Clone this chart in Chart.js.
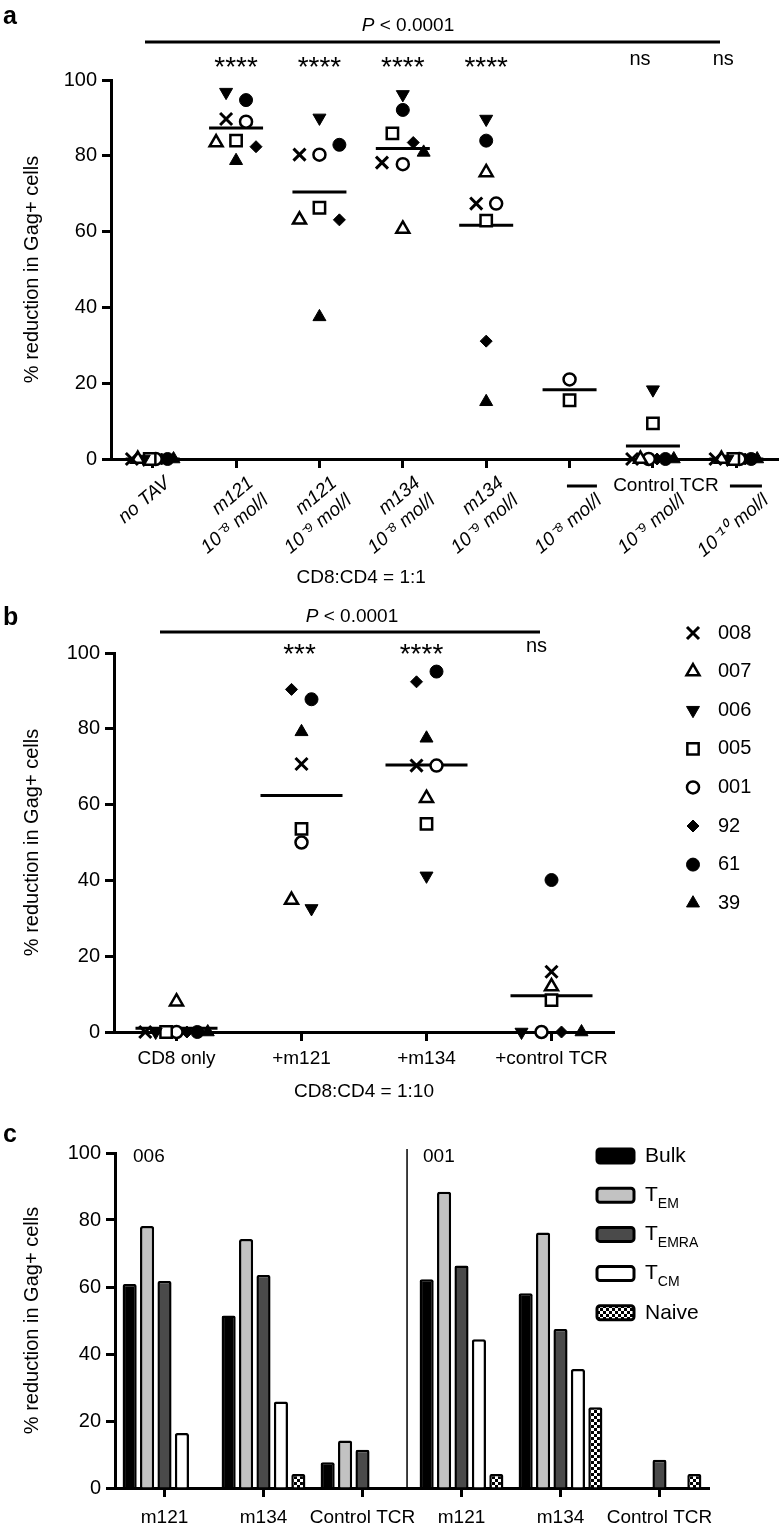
<!DOCTYPE html>
<html>
<head>
<meta charset="utf-8">
<script src="https://cdn.jsdelivr.net/npm/chart.js@4.4.0/dist/chart.umd.min.js"></script>
<style>
  body { margin: 0; background: #fff; width: 780px; height: 1528px; position: relative; overflow: hidden; }
  canvas { position: absolute; left: 0; }
</style>
</head>
<body>
<canvas id="chart-a" width="780" height="600" style="top:0"></canvas>
<canvas id="chart-b" width="780" height="515" style="top:595px"></canvas>
<canvas id="chart-c" width="780" height="418" style="top:1110px"></canvas>
<script>
// ---- data ----
const subjects = ["008", "007", "006", "005", "001", "92", "61", "39"];

// panel a: CD8:CD4 = 1:1
const ticksA = [
  ["no TAV"],
  ["m121", "10⁻⁸ mol/l"],
  ["m121", "10⁻⁹ mol/l"],
  ["m134", "10⁻⁸ mol/l"],
  ["m134", "10⁻⁹ mol/l"],
  ["", "10⁻⁸ mol/l"],
  ["", "10⁻⁹ mol/l"],
  ["", "10⁻¹⁰ mol/l"],
];
const sigA = ["", "****", "****", "****", "****", "", "ns", "ns"];
const a008 = [0, 89.7, 80.3, 78.2, 67.4, null, 0, 0];
const a007 = [0, 83.5, 63.1, 60.7, 75.6, null, 0, 0];
const a006 = [0, 96.8, 90.0, 96.2, 89.7, null, 18.3, 0];
const a005 = [0, 84.0, 66.3, 85.9, 62.9, 15.5, 9.4, 0];
const a001 = [0, 89.0, 80.3, 77.8, 67.4, 21.0, 0, 0];
const a92 = [0, 82.4, 63.1, 83.5, 31.1, null, 0, 0];
const a61 = [0, 94.7, 82.9, 92.1, 84.0, null, 0, 0];
const a39 = [0, 78.7, 37.5, 80.9, 15.1, null, 0, 0];

// panel b: CD8:CD4 = 1:10
const ticksB = ["CD8 only", "+m121", "+m134", "+control TCR"];
const sigB = ["", "***", "****", "ns"];
const b008 = [0, 70.7, 70.3, 15.9];
const b007 = [8.0, 34.8, 61.7, 12.0];
const b006 = [0, 32.6, 41.2, 0];
const b005 = [0, 53.6, 54.9, 8.4];
const b001 = [0, 50.0, 70.3, 0];
const b92 = [0, 90.4, 92.4, 0];
const b61 = [0, 87.8, 95.1, 40.1];
const b39 = [0, 79.2, 77.5, 0];

// panel c: subsets, donors 006 and 001
const ticksC = ["m121", "m134", "Control TCR", "m121", "m134", "Control TCR"];
const seriesC = ["Bulk", "T_EM", "T_EMRA", "T_CM", "Naive"];
const bulk = [60.9, 51.5, 7.7, 62.3, 58.1, 0];
const tem = [78.2, 74.3, 14.2, 88.4, 76.3, 0];
const temra = [61.8, 63.6, 11.4, 66.4, 47.5, 8.4];
const tcm = [16.4, 25.8, 0, 44.4, 35.5, 0];
const naive = [0, 4.2, 0, 4.2, 24.1, 4.2];

// ---- setup ----
const family = "'Liberation Sans', Arial, Helvetica, sans-serif";
Chart.defaults.font.family = family;
Chart.defaults.color = "#000";
Chart.defaults.animation = false;
Chart.defaults.events = [];
Chart.defaults.layout.autoPadding = false;
Chart.defaults.plugins.legend.display = false;
Chart.defaults.plugins.tooltip.enabled = false;

const markers = [
  { style: "crossRot", radius: 8.5, fill: "#000", width: 3, rotation: 0 },
  { style: "triangle", radius: 7.5, fill: "#fff", width: 2.5, rotation: 0 },
  { style: "triangle", radius: 7.5, fill: "#000", width: 1, rotation: 180 },
  { style: "rect", radius: 8, fill: "#fff", width: 2.5, rotation: 0 },
  { style: "circle", radius: 6, fill: "#fff", width: 2.5, rotation: 0 },
  { style: "rectRot", radius: 6, fill: "#000", width: 1, rotation: 0 },
  { style: "circle", radius: 6.5, fill: "#000", width: 1, rotation: 0 },
  { style: "triangle", radius: 7.5, fill: "#000", width: 1, rotation: 0 },
];

const tickGrid = { drawOnChartArea: false, drawTicks: true, tickLength: 9, tickWidth: 3, tickColor: "#000" };
const axisBorder = { display: true, color: "#000", width: 3 };

function yScale(width) {
  return {
    min: 0,
    max: 100,
    ticks: { stepSize: 20, font: { size: 20 }, padding: 5 },
    grid: tickGrid,
    border: axisBorder,
    title: { display: true, text: "% reduction in Gag+ cells", font: { size: 20 }, padding: { top: 20, bottom: 0 } },
    afterFit: (s) => { s.width = width; },
  };
}

// fixed height for an x axis, without extra side padding for the labels
function xFit(height) {
  return (s) => {
    s.height = height;
    s.paddingLeft = 0;
    s.paddingRight = 0;
  };
}

// spread points of one column that sit at nearly the same height
function spreadColumn(values, pxPerUnit, colPx) {
  const order = values.map((v, i) => i).filter((i) => values[i] != null)
    .sort((p, q) => values[q] - values[p]);
  const rows = [];
  order.forEach((i) => {
    const row = rows[rows.length - 1];
    if (row && (values[row[row.length - 1]] - values[i]) * pxPerUnit < 13.5) row.push(i);
    else rows.push([i]);
  });
  const offsets = values.map(() => 0);
  rows.forEach((row) => {
    row.sort((p, q) => p - q);
    const n = row.length;
    const step = n > 1 ? Math.min(20, (colPx * 0.5) / (n - 1)) : 0;
    row.forEach((i, k) => { offsets[i] = ((k - (n - 1) / 2) * step) / colPx; });
  });
  return offsets;
}

function scatterSets(series, pxPerUnit, colPx, meanRadius) {
  const groups = series[0].length;
  const offsets = [];
  const means = [];
  for (let g = 0; g < groups; g++) {
    const col = series.map((s) => s[g]);
    offsets.push(spreadColumn(col, pxPerUnit, colPx));
    const vals = col.filter((v) => v != null);
    means.push(vals.reduce((a, b) => a + b, 0) / vals.length);
  }
  const sets = series.map((s, k) => ({
    label: subjects[k],
    data: s.map((v, g) => (v == null ? null : { x: g + offsets[g][k], y: v })).filter(Boolean),
    pointStyle: markers[k].style,
    pointRadius: markers[k].radius,
    pointRotation: markers[k].rotation,
    pointBackgroundColor: markers[k].fill,
    pointBorderColor: "#000",
    pointBorderWidth: markers[k].width,
    showLine: false,
    clip: false,
  }));
  sets.push({
    label: "mean",
    data: means.map((m, g) => ({ x: g, y: m })),
    pointStyle: "line",
    pointRadius: meanRadius,
    pointBorderColor: "#000",
    pointBorderWidth: 3,
    showLine: false,
    clip: false,
  });
  return sets;
}

function fixedTicks(count) {
  return (s) => { s.ticks = Array.from({ length: count }, (_, i) => ({ value: i })); };
}

// ---- drawing helpers for annotations ----
function letter(ctx, t, x, y) {
  ctx.font = "bold 25px " + family;
  ctx.textAlign = "left";
  ctx.textBaseline = "middle";
  ctx.fillText(t, x, y);
}
function pText(ctx, cx, cy) {
  ctx.textBaseline = "middle";
  ctx.textAlign = "left";
  ctx.font = "italic 19px " + family;
  const w1 = ctx.measureText("P").width;
  ctx.font = "19px " + family;
  const rest = " < 0.0001";
  const w2 = ctx.measureText(rest).width;
  const x0 = cx - (w1 + w2) / 2;
  ctx.font = "italic 19px " + family;
  ctx.fillText("P", x0, cy);
  ctx.font = "19px " + family;
  ctx.fillText(rest, x0 + w1, cy);
}
function hline(ctx, x1, x2, y, w) {
  ctx.lineWidth = w;
  ctx.beginPath();
  ctx.moveTo(x1, y);
  ctx.lineTo(x2, y);
  ctx.stroke();
}
function sig(ctx, t, x, cy) {
  ctx.textAlign = "center";
  ctx.textBaseline = "alphabetic";
  if (t === "ns") {
    ctx.font = "20px " + family;
    ctx.fillText(t, x - 13, cy + 5);
  } else {
    ctx.font = "28px " + family;
    ctx.fillText(t, x, cy + 16);
  }
}

const notesA = {
  id: "notesA",
  afterDraw(chart) {
    const { ctx } = chart;
    const x = chart.scales.x;
    ctx.save();
    ctx.fillStyle = "#000";
    ctx.strokeStyle = "#000";
    letter(ctx, "a", 3, 17);
    pText(ctx, 408, 26);
    hline(ctx, 145, 720, 42, 3);
    sigA.forEach((t, i) => { if (t) sig(ctx, t, x.getPixelForValue(i), 60); });
    const cx = x.getPixelForValue(6) + 13;
    ctx.font = "19px " + family;
    ctx.textAlign = "center";
    ctx.textBaseline = "middle";
    ctx.fillText("Control TCR", cx, 486);
    hline(ctx, cx - 99, cx - 69, 486, 3);
    hline(ctx, cx + 64, cx + 96, 486, 3);
    ctx.fillText("CD8:CD4 = 1:1", x.getPixelForValue(2.5), 578);
    ctx.restore();
  },
};

const notesB = {
  id: "notesB",
  afterDraw(chart) {
    const { ctx } = chart;
    const x = chart.scales.x;
    ctx.save();
    ctx.fillStyle = "#000";
    ctx.strokeStyle = "#000";
    letter(ctx, "b", 3, 23);
    pText(ctx, 352, 22);
    hline(ctx, 160, 540, 37, 3);
    sigB.forEach((t, i) => { if (t) sig(ctx, t, x.getPixelForValue(i) - (t === "****" ? 5 : 2), 52); });
    ctx.font = "19px " + family;
    ctx.textAlign = "center";
    ctx.textBaseline = "middle";
    ctx.fillText("CD8:CD4 = 1:10", x.getPixelForValue(1.5), 497);
    // legend
    subjects.forEach((name, k) => {
      const y = 38 + k * 38.6;
      const m = markers[k];
      ctx.fillStyle = m.fill;
      ctx.strokeStyle = "#000";
      ctx.lineWidth = m.width;
      Chart.helpers.drawPoint(ctx, { pointStyle: m.style, radius: m.radius, rotation: m.rotation, borderWidth: m.width }, 693, y);
      ctx.fillStyle = "#000";
      ctx.font = "20px " + family;
      ctx.textAlign = "left";
      ctx.textBaseline = "middle";
      ctx.fillText(name, 718, y);
    });
    ctx.restore();
  },
};

const notesC = {
  id: "notesC",
  afterDraw(chart) {
    const { ctx, chartArea } = chart;
    const x = chart.scales.x;
    ctx.save();
    ctx.fillStyle = "#000";
    ctx.strokeStyle = "#000";
    letter(ctx, "c", 3, 25);
    const dx = x.getPixelForValue(2.45);
    ctx.lineWidth = 1.5;
    ctx.beginPath();
    ctx.moveTo(dx, 39);
    ctx.lineTo(dx, chartArea.bottom);
    ctx.stroke();
    ctx.font = "19px " + family;
    ctx.textAlign = "left";
    ctx.textBaseline = "middle";
    ctx.fillText("006", chartArea.left + 18, 47);
    ctx.fillText("001", dx + 16, 47);
    // legend
    chart.data.datasets.forEach((ds, k) => {
      const y = 46 + k * 39.2;
      ctx.fillStyle = ds.backgroundColor;
      ctx.strokeStyle = "#000";
      ctx.lineWidth = 3;
      ctx.beginPath();
      ctx.roundRect(597, y - 7, 37, 14, 3);
      ctx.fill();
      ctx.stroke();
      const [main, sub] = seriesC[k].split("_");
      ctx.fillStyle = "#000";
      ctx.textAlign = "left";
      ctx.textBaseline = "middle";
      ctx.font = "21px " + family;
      ctx.fillText(main, 645, y);
      if (sub) {
        const w = ctx.measureText(main).width;
        ctx.font = "14px " + family;
        ctx.fillText(sub, 645 + w, y + 9);
      }
    });
    ctx.restore();
  },
};

// checkered fill for naive cells
function checkerPattern() {
  const c = document.createElement("canvas");
  c.width = 6;
  c.height = 6;
  const g = c.getContext("2d");
  g.fillStyle = "#fff";
  g.fillRect(0, 0, 6, 6);
  g.fillStyle = "#000";
  g.fillRect(0, 0, 3, 3);
  g.fillRect(3, 3, 3, 3);
  return g.createPattern(c, "repeat");
}

// ---- panel a ----
new Chart(document.getElementById("chart-a"), {
  type: "scatter",
  data: { datasets: scatterSets([a008, a007, a006, a005, a001, a92, a61, a39], 3.79, 83.6, 27) },
  options: {
    responsive: false,
    devicePixelRatio: 1,
    layout: { autoPadding: false, padding: { top: 80, right: 2, bottom: 0, left: 0 } },
    scales: {
      x: {
        type: "linear",
        min: -0.5,
        max: 7.5,
        afterBuildTicks: fixedTicks(ticksA.length),
        afterFit: xFit(141),
        ticks: {
          autoSkip: false,
          minRotation: 40,
          maxRotation: 40,
          padding: 4,
          labelOffset: 15,
          font: { size: 19, style: "italic" },
          callback: (v) => ticksA[v],
        },
        grid: tickGrid,
        border: axisBorder,
      },
      y: yScale(111),
    },
  },
  plugins: [notesA],
});

// ---- panel b ----
new Chart(document.getElementById("chart-b"), {
  type: "scatter",
  data: { datasets: scatterSets([b008, b007, b006, b005, b001, b92, b61, b39], 3.79, 125, 41) },
  options: {
    responsive: false,
    devicePixelRatio: 1,
    layout: { autoPadding: false, padding: { top: 58, right: 166, bottom: 0, left: 0 } },
    scales: {
      x: {
        type: "linear",
        min: -0.5,
        max: 3.5,
        afterBuildTicks: fixedTicks(ticksB.length),
        afterFit: xFit(78),
        ticks: {
          autoSkip: false,
          maxRotation: 0,
          padding: 6,
          font: { size: 19 },
          callback: (v) => ticksB[v],
        },
        grid: tickGrid,
        border: axisBorder,
      },
      y: yScale(114),
    },
  },
  plugins: [notesB],
});

// ---- panel c ----
const fillsC = ["#000000", "#c2c2c2", "#4a4a4a", "#ffffff", checkerPattern()];
new Chart(document.getElementById("chart-c"), {
  type: "bar",
  data: {
    labels: ticksC,
    datasets: [bulk, tem, temra, tcm, naive].map((d, k) => ({
      label: seriesC[k],
      data: d,
      backgroundColor: fillsC[k],
      borderColor: "#000",
      borderWidth: 2.5,
      borderRadius: 2,
      borderSkipped: "bottom",
      categoryPercentage: 0.88,
      barPercentage: 0.81,
    })),
  },
  options: {
    responsive: false,
    devicePixelRatio: 1,
    layout: { autoPadding: false, padding: { top: 43, right: 71, bottom: 0, left: 0 } },
    scales: {
      x: {
        afterFit: xFit(40),
        ticks: { autoSkip: false, maxRotation: 0, padding: 9, font: { size: 19 } },
        grid: { ...tickGrid, offset: false },
        border: axisBorder,
      },
      y: yScale(115),
    },
  },
  plugins: [notesC],
});
</script>
</body>
</html>
